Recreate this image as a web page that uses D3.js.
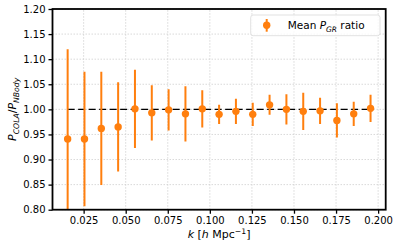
<!DOCTYPE html>
<html>
<head>
<meta charset="utf-8">
<script src="https://cdn.jsdelivr.net/npm/d3@7"></script>
<style>
  body { margin: 0; background: #fff; }
  text { font-family: "DejaVu Sans", sans-serif; }
</style>
</head>
<body>
<script>
// k bins and mean ratio P_COLA / P_NBody with error bars
var kValues = [0.0155, 0.0255, 0.0355, 0.0455, 0.0555, 0.0655, 0.0755, 0.0855, 0.0955, 0.1055,
               0.1155, 0.1255, 0.1355, 0.1455, 0.1555, 0.1655, 0.1755, 0.1855, 0.1955]
var ratio = [0.941, 0.941, 0.962, 0.965, 1.001, 0.993, 0.999, 0.991, 1.001, 0.990,
             0.996, 0.990, 1.009, 1.000, 0.996, 0.997, 0.978, 0.991, 1.002]
var ratioErr = [0.179, 0.134, 0.113, 0.089, 0.078, 0.055, 0.041, 0.055, 0.037, 0.019,
                0.025, 0.023, 0.020, 0.030, 0.037, 0.026, 0.034, 0.024, 0.027]
var xTicks = [0.025, 0.050, 0.075, 0.100, 0.125, 0.150, 0.175, 0.200]
var yTicks = [0.80, 0.85, 0.90, 0.95, 1.00, 1.05, 1.10, 1.15, 1.20]

var data = kValues.map((k, i) => ({k: k, r: ratio[i], e: ratioErr[i]}))

var width = 399, height = 251
var margin = {top: 9, right: 13.3, bottom: 41.3, left: 52.5}
var orange = "#ff7f0e"

var svg = d3.select("body").append("svg")
    .attr("width", width)
    .attr("height", height)

var x = d3.scaleLinear()
    .domain([0.0065, 0.2045])
    .range([margin.left, width - margin.right])

var y = d3.scaleLinear()
    .domain([0.80, 1.20])
    .range([height - margin.bottom, margin.top])

svg.append("defs").append("clipPath").attr("id", "clip")
  .append("rect")
    .attr("x", x.range()[0]).attr("y", y.range()[1])
    .attr("width", x.range()[1] - x.range()[0])
    .attr("height", y.range()[0] - y.range()[1])

// grid
var grid = svg.append("g")
grid.selectAll(".gx").data(xTicks).enter().append("line")
    .attr("x1", d => x(d)).attr("x2", d => x(d))
    .attr("y1", y.range()[0]).attr("y2", y.range()[1])
    .attr("stroke", "#cfcfcf").attr("stroke-width", 0.8).attr("stroke-dasharray", "1.5,1.5")
grid.selectAll(".gy").data(yTicks).enter().append("line")
    .attr("y1", d => y(d)).attr("y2", d => y(d))
    .attr("x1", x.range()[0]).attr("x2", x.range()[1])
    .attr("stroke", "#cfcfcf").attr("stroke-width", 0.8).attr("stroke-dasharray", "1.5,1.5")

// reference line at 1
svg.append("line")
    .attr("x1", x(kValues[0])).attr("x2", x(kValues[kValues.length - 1]))
    .attr("y1", y(1)).attr("y2", y(1))
    .attr("stroke", "#000").attr("stroke-width", 1.2).attr("stroke-dasharray", "7,3.5")

var plot = svg.append("g").attr("clip-path", "url(#clip)")

plot.selectAll(".err").data(data).enter().append("line")
    .attr("x1", d => x(d.k)).attr("x2", d => x(d.k))
    .attr("y1", d => y(d.r - d.e)).attr("y2", d => y(d.r + d.e))
    .attr("stroke", orange).attr("stroke-width", 2)

plot.selectAll("circle").data(data).enter().append("circle")
    .attr("cx", d => x(d.k)).attr("cy", d => y(d.r))
    .attr("r", 3.7)
    .attr("fill", orange)

// axes
var xAxis = d3.axisBottom(x).tickValues(xTicks).tickFormat(d3.format(".3f")).tickSize(4).tickPadding(3)
var yAxis = d3.axisLeft(y).tickValues(yTicks).tickFormat(d3.format(".2f")).tickSize(4).tickPadding(3)

var gx = svg.append("g")
    .attr("transform", "translate(0," + y.range()[0] + ")")
    .call(xAxis)
var gy = svg.append("g")
    .attr("transform", "translate(" + x.range()[0] + ",0)")
    .call(yAxis)

;[gx, gy].forEach(g => {
  g.select(".domain").remove()
  g.selectAll(".tick line").attr("stroke", "#000").attr("stroke-width", 1.3)
  g.selectAll(".tick text").attr("fill", "#000").style("font-size", "10px")
    .style("font-family", "DejaVu Sans, sans-serif")
})

// frame
svg.append("rect")
    .attr("x", x.range()[0]).attr("y", y.range()[1])
    .attr("width", x.range()[1] - x.range()[0])
    .attr("height", y.range()[0] - y.range()[1])
    .attr("fill", "none").attr("stroke", "#000").attr("stroke-width", 1.8)

// axis labels
var xl = svg.append("text")
    .attr("x", (x.range()[0] + x.range()[1]) / 2)
    .attr("y", 238)
    .attr("text-anchor", "middle")
    .style("font-size", "11px")
xl.append("tspan").attr("font-style", "italic").text("k")
xl.append("tspan").text(" [")
xl.append("tspan").attr("font-style", "italic").text("h")
xl.append("tspan").text(" Mpc")
xl.append("tspan").attr("dy", -4).style("font-size", "7.7px").text("\u22121")
xl.append("tspan").attr("dy", 4).text("]")

var yl = svg.append("text")
    .attr("transform", "translate(16," + ((y.range()[0] + y.range()[1]) / 2) + ") rotate(-90)")
    .attr("text-anchor", "middle")
    .style("font-size", "11px")
yl.append("tspan").attr("font-style", "italic").text("P")
yl.append("tspan").attr("dy", 3).attr("font-style", "italic").style("font-size", "7.7px").text("COLA")
yl.append("tspan").attr("dy", -3).text("/")
yl.append("tspan").attr("font-style", "italic").text("P")
yl.append("tspan").attr("dy", 3).attr("font-style", "italic").style("font-size", "7.7px").text("NBody")

// legend
var lg = svg.append("g").attr("transform", "translate(250.7,15)")
lg.append("rect")
    .attr("width", 129.3).attr("height", 20.7).attr("rx", 2.5)
    .attr("fill", "#fff").attr("fill-opacity", 0.8)
    .attr("stroke", "#d9d9d9").attr("stroke-width", 0.8)
lg.append("line")
    .attr("x1", 16).attr("x2", 16).attr("y1", 4).attr("y2", 16.7)
    .attr("stroke", orange).attr("stroke-width", 2)
lg.append("circle").attr("cx", 16).attr("cy", 10.3).attr("r", 3.7).attr("fill", orange)
var lt = lg.append("text").attr("x", 37).attr("y", 14.2).style("font-size", "10.5px")
lt.append("tspan").text("Mean ")
lt.append("tspan").attr("font-style", "italic").text("P")
lt.append("tspan").attr("dy", 2.5).attr("font-style", "italic").style("font-size", "7.5px").text("GR")
lt.append("tspan").attr("dy", -2.5).text(" ratio")
</script>
</body>
</html>
